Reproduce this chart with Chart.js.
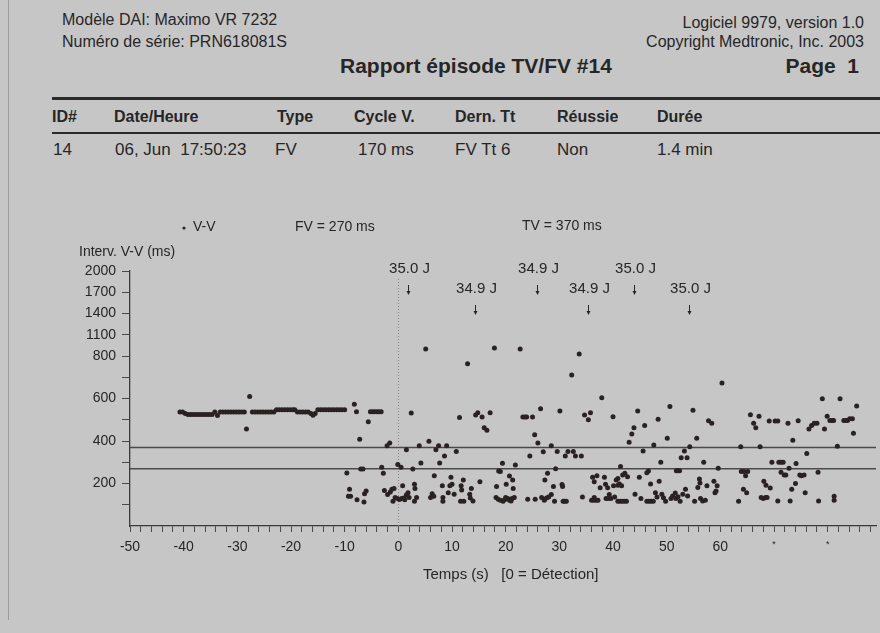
<!Doctype html>
<html>
  <head>
    <meta charset="utf-8"/>
    <style type="text/css">
      body {
        margin: 0px;
        padding: 0px;
        background-color: #c6c6c6;
        font-family: "Liberation Sans", Arial, Helvetica, sans-serif;
        color: #262626;
      }
      #page {
        position: relative;
        width: 880px;
        height: 633px;
        overflow: hidden;
      }
      .t { position: absolute; white-space: pre; line-height: 18px; font-size: 16px; }
      .h { font-weight: bold; font-size: 16px; }
      .d { font-size: 17px; }
      .big { font-weight: bold; font-size: 21px; line-height: 22px; }
      #chart { position: absolute; left: 0px; top: 190px; }
    </style>
  </head>
  <body>
    <div id="page">
      <div style="position:absolute;left:8px;top:0;width:1px;height:620px;background:#9c9c9c"></div>

      <div class="t" style="left:62px;top:11px">Modèle DAI: Maximo VR 7232</div>
      <div class="t" style="left:62px;top:33px">Numéro de série: PRN618081S</div>
      <div class="t" style="right:16px;top:14px">Logiciel 9979, version 1.0</div>
      <div class="t" style="right:16px;top:33px">Copyright Medtronic, Inc. 2003</div>
      <div class="t big" style="left:340px;top:55px">Rapport épisode TV/FV #14</div>
      <div class="t big" style="right:21px;top:55px">Page  1</div>

      <div style="position:absolute;left:52px;right:0;top:97px;height:3px;background:#2a2a2a"></div>
      <div class="t h" style="left:52px;top:108px">ID#</div>
      <div class="t h" style="left:114px;top:108px">Date/Heure</div>
      <div class="t h" style="left:277px;top:108px">Type</div>
      <div class="t h" style="left:354px;top:108px">Cycle V.</div>
      <div class="t h" style="left:455px;top:108px">Dern. Tt</div>
      <div class="t h" style="left:557px;top:108px">Réussie</div>
      <div class="t h" style="left:657px;top:108px">Durée</div>
      <div style="position:absolute;left:52px;right:0;top:132px;height:2px;background:#2a2a2a"></div>
      <div class="t d" style="left:53px;top:141px">14</div>
      <div class="t d" style="left:115px;top:141px">06, Jun  17:50:23</div>
      <div class="t d" style="left:275px;top:141px">FV</div>
      <div class="t d" style="left:358px;top:141px">170 ms</div>
      <div class="t d" style="left:455px;top:141px">FV Tt 6</div>
      <div class="t d" style="left:557px;top:141px">Non</div>
      <div class="t d" style="left:657px;top:141px">1.4 min</div>

      <canvas id="chart" width="880" height="443"></canvas>
    </div>
  </body>
  <script src="https://cdn.jsdelivr.net/npm/chart.js@4.4.1/dist/chart.umd.min.js"></script>
  <script>
    // V-V intervals, [time (s), interval (ms)]
    var vvPre = [
      [-40.7,536],[-40.2,536],[-39.7,530],[-39.2,525],[-38.7,525],[-38.2,525],[-37.7,525],[-37.2,525],
      [-36.7,525],[-36.2,525],[-35.7,525],[-35.2,525],[-34.7,525],[-34.2,536],[-33.7,520],[-33.2,536],
      [-32.7,536],[-32.2,536],[-31.7,536],[-31.2,536],[-30.7,536],[-30.2,536],[-29.7,536],[-29.2,536],
      [-28.7,536],[-28.3,457],[-27.7,610],[-27.2,536],[-26.7,536],[-26.2,536],[-25.7,536],[-25.2,536],
      [-24.7,536],[-24.2,536],[-23.7,536],[-23.2,536],[-22.7,547],[-22.2,547],[-21.7,547],[-21.2,547],
      [-20.7,547],[-20.2,547],[-19.7,547],[-19.3,547],[-18.8,536],[-18.3,536],[-17.8,536],[-17.3,536],
      [-16.8,536],[-16.3,530],[-15.9,521],[-15.5,530],[-15.0,547],[-14.5,547],[-14.0,547],[-13.5,547],
      [-13.0,547],[-12.5,547],[-12.0,547],[-11.5,547],[-11.0,547],[-10.5,547],[-10.0,547]
    ];
    var vvEp0 = [
      [-9.6,250],[-9.1,173],[-9.3,140],[-8.9,140],[-8.2,573],[-7.8,538],[-7.7,124],[-7.2,408],
      [-7.0,268],[-6.6,268],[-6.4,113],[-6.3,152],[-6.0,165],[-5.6,491],[-5.2,538],[-4.8,538],
      [-4.4,538],[-4.0,538],[-3.6,538],[-3.2,538],[-3.1,276],[-2.8,248],[-2.6,167],[-2.1,378],
      [-2.0,148],[-1.6,391],[-1.5,160],[-1.2,173],[-1.0,116],[-0.8,176],[-0.6,134],[-0.2,129],
      [-0.1,289],[0.2,125],[0.5,276],[0.6,129],[0.8,189],[1.0,132],[1.2,124],[1.5,146],
      [1.5,359],[1.8,157],[2.0,134],[2.4,532],[2.7,268],[3.0,197],[3.1,176],[3.4,134],
      [3.0,116],[3.9,378],[4.2,297],[5.1,899],[5.7,399],[6.0,134],[6.3,152],[6.6,140],
      [6.7,237],[7.0,359],[7.5,378],[7.7,297],[8.2,189],[8.3,134],[8.3,116],[8.6,329],
      [9.0,378],[9.3,157],[9.6,189],[9.8,229]
    ];
    var vvEp1 = [
      [10.0,197],[10.4,149],[10.8,351],[11.4,511],[11.7,189],[11.8,170],[12.1,216],[11.6,116],
      [12.2,116],[12.9,763],[13.3,149],[13.4,132],[13.6,176],[13.9,118],[14.4,522],[14.8,533],
      [15.2,208],[15.6,513],[16.0,462],[16.5,451],[17.1,533],[17.9,913],[18.2,134],[18.3,186],
      [18.6,126],[18.7,259],[19.0,256],[19.0,121],[19.4,295],[19.5,116],[19.8,124],[20.0,134],
      [20.1,197],[20.4,129],[20.7,235],[20.7,121],[21.0,118],[21.2,129],[21.3,216],[21.4,176],
      [21.6,134],[21.8,287],[22.7,899],[23.2,513],[23.6,513],[23.9,513],[24.1,126],[24.5,329],
      [25.0,513],[25.4,430],[25.5,126],[26.0,391],[26.5,552],[26.7,134],[27.0,349],[27.2,121],
      [27.3,216],[27.6,132],[27.8,248],[28.0,137],[28.5,378],[28.5,148],[28.9,186],[29.1,116],
      [29.3,270],[29.6,351]
    ];
    var vvEp2 = [
      [30.1,541],[30.5,195],[30.6,186],[30.7,116],[31.0,116],[31.1,329],[31.3,116],[31.6,351],
      [32.3,711],[32.6,351],[33.0,329],[33.7,828],[34.1,329],[34.3,137],[34.7,522],[35.4,500],
      [35.8,533],[36.0,121],[36.2,229],[36.4,121],[36.5,208],[36.5,134],[36.8,121],[37.0,237],
      [37.2,121],[37.6,180],[37.9,603],[38.4,229],[38.6,197],[38.7,129],[39.0,180],[39.1,129],
      [39.3,148],[39.6,129],[40.0,514],[40.1,189],[40.3,137],[40.6,216],[40.9,224],[40.9,192],
      [40.9,116],[41.2,198],[41.3,116],[41.4,280],[41.6,189],[41.7,116],[41.8,240],[42.1,116],
      [42.2,248],[42.5,116],[42.7,232],[43.0,394],[43.5,433],[43.9,462],[44.1,149],[44.6,541],
      [44.9,230],[45.2,130],[45.6,353],[45.9,473],[46.3,251],[46.3,116],[46.6,259],[46.7,116],
      [47.0,198],[47.1,116],[47.5,116],[47.6,381],[47.9,157],[48.2,136],[48.4,502],[48.6,211],
      [48.9,300],[49.1,149],[49.4,133],[49.8,116]
    ];
    var vvEp3 = [
      [50.1,413],[50.6,562],[50.8,130],[51.1,141],[51.6,155],[51.7,130],[51.8,260],[52.1,260],
      [52.1,138],[52.4,260],[52.5,116],[52.7,321],[53.0,150],[53.3,353],[53.5,173],[53.8,321],
      [53.9,141],[54.3,373],[54.9,545],[55.2,116],[55.6,413],[55.8,181],[56.1,221],[56.2,202],
      [56.3,130],[56.7,118],[56.9,300],[57.2,121],[57.5,189],[57.8,495],[58.4,483],[58.8,211],
      [59.0,157],[59.2,165],[59.4,189],[59.6,272],[60.3,673],[63.4,116],[63.8,373],[63.9,256],
      [64.3,173],[64.4,256],[64.7,237],[64.9,157],[65.1,256],[65.6,524],[66.2,484],[66.6,462],
      [67.2,516],[67.4,373],[67.6,134],[68.0,130],[68.1,211],[68.4,134],[68.5,192],[68.7,134],
      [69.1,494],[69.3,179],[69.6,300],[70.2,494],[70.7,494],[70.7,118],[70.9,300],[71.3,300],
      [71.3,253],[71.7,300],[71.9,240],[72.2,240],[72.6,484],[72.8,272],[73.0,118],[73.3,173],
      [73.5,403],[74.0,200],[74.1,294],[74.5,495],[74.8,240],[75.1,236],[75.6,240],[75.8,157],
      [76.1,341],[76.5,456],[77.0,473],[77.5,484],[78.0,484],[78.2,253],[78.3,118],[79.0,599],
      [79.4,456],[79.9,516],[80.4,497],[80.8,497],[81.1,497],[81.2,140],[81.2,121],[81.8,375],
      [82.3,599],[83.0,497],[83.4,497],[83.7,497],[84.1,505],[84.6,505],[84.8,437],[85.4,565]
    ];

    // detection zones (ms)
    var tvLimit = 370;
    var fvLimit = 270;

    // shocks delivered
    var shockTimes = [1.8, 14.2, 25.8, 35.3, 43.9, 54.2];
    var shockEnergy = ['35.0 J', '34.9 J', '34.9 J', '34.9 J', '35.0 J', '35.0 J'];
    var shockRow = [0, 1, 0, 1, 0, 1];

    var yTickMs = [100, 200, 300, 400, 500, 600, 700, 800, 1100, 1400, 1700, 2000];
    var yLabelMs = [200, 400, 600, 800, 1100, 1400, 1700, 2000];

    var FONT = '"Liberation Sans", Arial, Helvetica, sans-serif';
    var INK = '#262626';

    // axis is compressed above 800 ms (300 ms per step instead of 100)
    function toAxis(ms) { return ms <= 800 ? ms : 800 + (ms - 800) / 3; }
    function fromAxis(v) { return v <= 800 ? v : 800 + (v - 800) * 3; }

    function pts(list) {
      return list.map(function(p) { return {x: p[0], y: toAxis(p[1])}; });
    }

    var allVV = [].concat(pts(vvPre), pts(vvEp0), pts(vvEp1), pts(vvEp2), pts(vvEp3));

    var overlay = {
      id: 'overlay',
      beforeDatasetsDraw: function(chart) {
        var ctx = chart.ctx, area = chart.chartArea;
        var x0 = chart.scales.x.getPixelForValue(0);
        ctx.save();
        ctx.strokeStyle = '#858585';
        ctx.lineWidth = 1;
        ctx.setLineDash([1, 2]);
        ctx.beginPath();
        ctx.moveTo(Math.round(x0) + 0.5, area.top + 8);
        ctx.lineTo(Math.round(x0) + 0.5, area.bottom);
        ctx.stroke();
        ctx.restore();
      },
      afterDraw: function(chart) {
        var ctx = chart.ctx, area = chart.chartArea, xs = chart.scales.x;
        ctx.save();
        ctx.fillStyle = INK;
        ctx.strokeStyle = INK;
        ctx.textBaseline = 'middle';

        // legend / zone labels
        ctx.font = '14px ' + FONT;
        ctx.textAlign = 'left';
        ctx.beginPath();
        ctx.arc(184, 38, 1.6, 0, Math.PI * 2);
        ctx.fill();
        ctx.fillText('V-V', 193, 37);
        ctx.fillText('FV = ' + fvLimit + ' ms', 295, 37);
        ctx.fillText('TV = ' + tvLimit + ' ms', 522, 36);
        ctx.fillText('Interv. V-V (ms)', 79, 62);
        ctx.font = '15px ' + FONT;
        ctx.fillText('Temps (s)   [0 = Détection]', 423, 385);

        // shocks
        ctx.font = '15px ' + FONT;
        ctx.textAlign = 'center';
        ctx.lineWidth = 1;
        for (var i = 0; i < shockTimes.length; i++) {
          var px = Math.round(xs.getPixelForValue(shockTimes[i])) + 0.5;
          var ly = area.top - 2 + shockRow[i] * 20;
          var ay = ly + 21;
          ctx.fillText(shockEnergy[i], px + 1, ly);
          ctx.beginPath();
          ctx.moveTo(px, ay - 5);
          ctx.lineTo(px, ay + 3);
          ctx.stroke();
          ctx.beginPath();
          ctx.moveTo(px - 2, ay + 1);
          ctx.lineTo(px + 2, ay + 1);
          ctx.lineTo(px, ay + 5);
          ctx.closePath();
          ctx.fill();
        }
        ctx.restore();
      }
    };

    var ctx = document.getElementById('chart').getContext('2d');
    var chart = new Chart(ctx, {
      type: 'scatter',
      data: {
        datasets: [{
          label: 'V-V',
          data: allVV,
          pointRadius: 2.5,
          pointBackgroundColor: '#2a2222',
          pointBorderWidth: 0,
          order: 1
        }, {
          type: 'line',
          label: 'TV',
          data: [{x: -50, y: toAxis(tvLimit)}, {x: 89, y: toAxis(tvLimit)}],
          borderColor: '#4a4a4a',
          borderWidth: 1.5,
          pointRadius: 0,
          order: 2
        }, {
          type: 'line',
          label: 'FV',
          data: [{x: -50, y: toAxis(fvLimit)}, {x: 89, y: toAxis(fvLimit)}],
          borderColor: '#4a4a4a',
          borderWidth: 1.5,
          pointRadius: 0,
          order: 2
        }]
      },
      options: {
        responsive: false,
        animation: false,
        devicePixelRatio: 1,
        layout: { padding: { left: 0, top: 81, right: 0, bottom: 0 } },
        plugins: { legend: { display: false }, tooltip: { enabled: false } },
        scales: {
          x: {
            type: 'linear',
            position: 'bottom',
            min: -50,
            max: 89,
            afterFit: function(s) { s.height = 107; },
            afterBuildTicks: function(s) {
              var t = [];
              for (var v = -50; v <= 88; v += 2) t.push({value: v});
              s.ticks = t;
            },
            border: { display: true, color: '#3a3a3a', width: 1.3 },
            grid: { display: true, drawOnChartArea: false, drawTicks: true, tickLength: 6, tickColor: '#4a4a4a' },
            ticks: {
              autoSkip: false,
              maxRotation: 0,
              padding: 7,
              color: INK,
              font: function(c) {
                var v = c.tick ? c.tick.value : 0;
                return { family: FONT, size: (v === 70 || v === 80) ? 9 : 14 };
              },
              callback: function(v) {
                if (v === 70 || v === 80) return '*';
                if (v % 10 === 0 && v <= 60) return String(v);
                return '';
              }
            }
          },
          y: {
            type: 'linear',
            min: 0,
            max: toAxis(2000),
            afterFit: function(s) { s.width = 130; },
            afterBuildTicks: function(s) {
              s.ticks = yTickMs.map(function(ms) { return {value: toAxis(ms)}; });
            },
            border: { display: true, color: '#3a3a3a', width: 1.3 },
            grid: { display: true, drawOnChartArea: false, drawTicks: true, tickLength: 8, tickColor: '#4a4a4a' },
            ticks: {
              padding: 6,
              color: INK,
              font: { family: FONT, size: 14 },
              callback: function(v) {
                var ms = Math.round(fromAxis(v));
                return yLabelMs.indexOf(ms) >= 0 ? String(ms) : '';
              }
            }
          }
        }
      },
      plugins: [overlay]
    });
  </script>
</html>
